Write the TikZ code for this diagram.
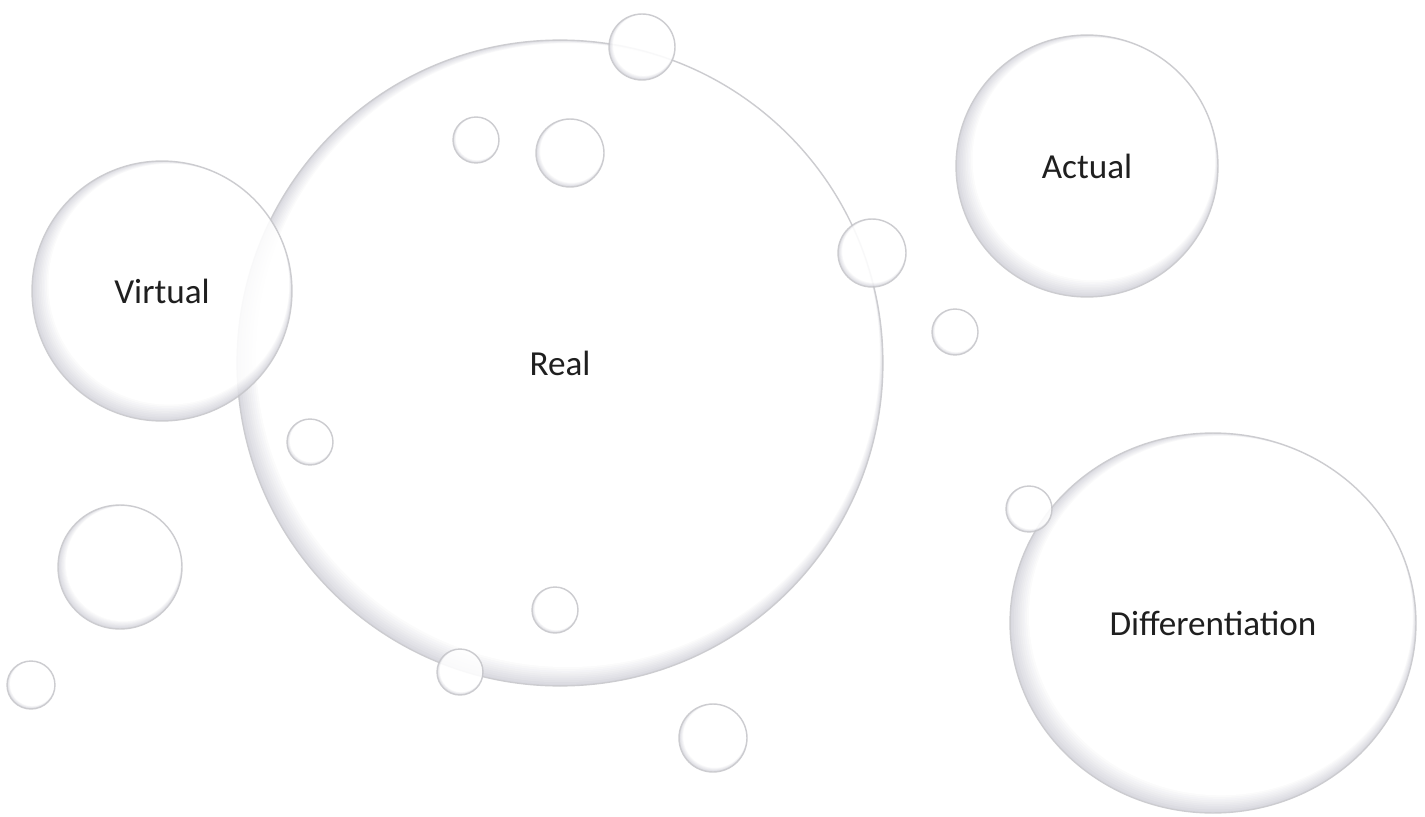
\documentclass[tikz,border=0pt]{standalone}
\usepackage{fontspec}
\setmainfont{Carlito}
\usetikzlibrary{shapes.geometric}

\definecolor{bubblegray}{RGB}{212, 212, 220}
\definecolor{bubblerim}{RGB}{198, 198, 202}

% soft crescent shadow towards the lower left: centre x, y, radius x, radius y
\newcommand{\bubbleshadow}[4]{%
  \pgfmathsetmacro\sx{min(#3,150)/#3}
  \begin{scope}[shift={(#1,#2)}]
    \foreach \k in {0,...,10} {
      \pgfmathsetmacro\c{100-10*\k}
      \fill[bubblegray!\c!white] ({#3*\sx*\k*0.0052},{-#4*\sx*\k*0.0052})
        ellipse [x radius={#3*(1-\sx*\k*0.0074)}, y radius={#4*(1-\sx*\k*0.0074)}];
    }
  \end{scope}}

\tikzset{
  bubble/.style={circle, inner sep=0pt, minimum size=#1*0.04cm,
    draw=bubblerim, line width=0.8pt, font=\fontsize{20}{24}\selectfont},
  glass/.style={transparency group, opacity=0.88},
}

\begin{document}
\begin{tikzpicture}[x=0.02cm, y=-0.02cm]
    \useasboundingbox[fill=white] (0,0) rectangle (1425,817);

    % Big bubbles
    \begin{scope}[glass]
      \bubbleshadow{560}{363}{323}{323}
      \node[bubble=323] (real) at (560,363) {Real};
    \end{scope}
    \begin{scope}[glass]
      \bubbleshadow{162}{291}{130}{130}
      \node[bubble=130] (virtual) at (162,291) {Virtual};
    \end{scope}
    \begin{scope}[glass]
      \bubbleshadow{1087}{166}{131}{131}
      \node[bubble=131] (actual) at (1087,166) {Actual};
    \end{scope}
    \begin{scope}[glass]
      \bubbleshadow{1213}{623}{203}{190}
      \node[bubble=190, ellipse, minimum width=8.12cm, minimum height=7.6cm] (diff) at (1213,623) {Differentiation};
    \end{scope}

    % Small bubbles
    \foreach \x/\y/\r [count=\i] in {642/47/33, 476/140/23, 570/153/34, 872/253/34, 955/332/23,
        310/442/23, 120/567/62, 31/685/24, 555/610/23, 460/672/23, 713/738/34, 1029/509/23} {
      \begin{scope}[glass]
        \bubbleshadow{\x}{\y}{\r}{\r}
        \node[bubble=\r] (b\i) at (\x,\y) {};
      \end{scope}
    }
\end{tikzpicture}
\end{document}
